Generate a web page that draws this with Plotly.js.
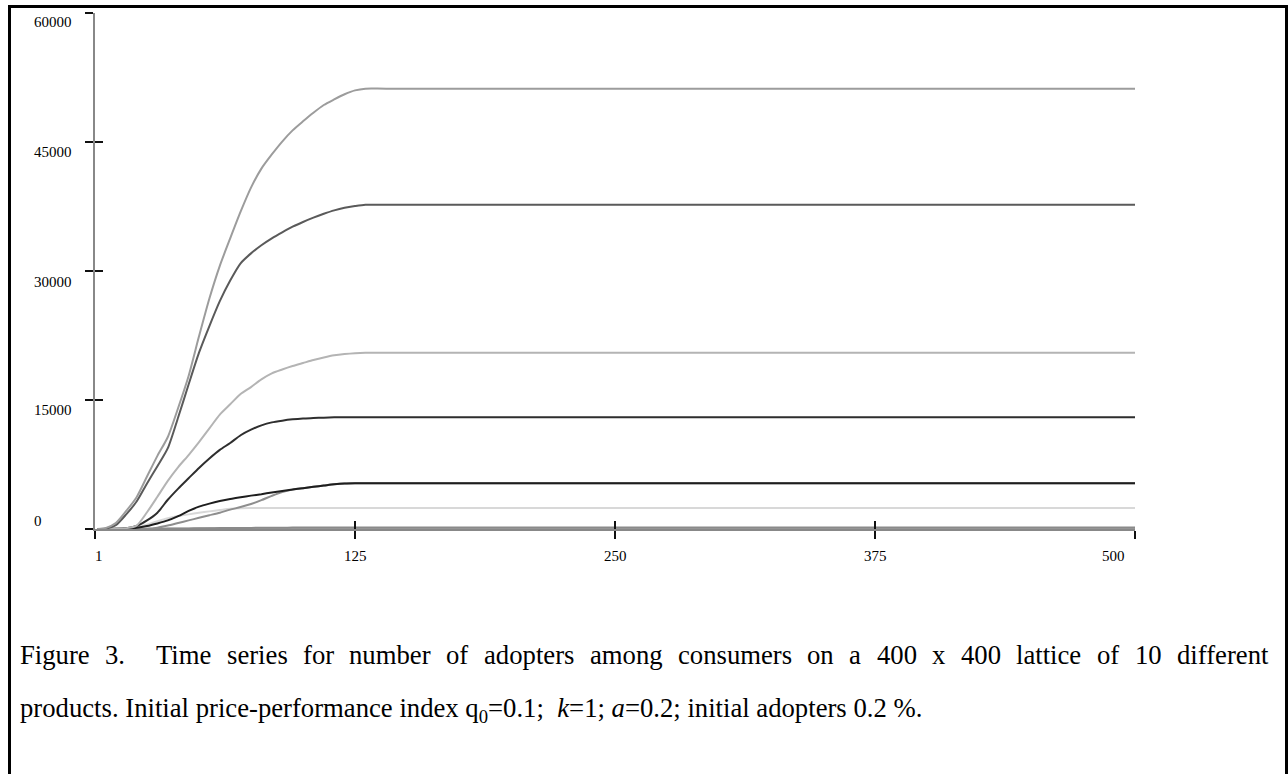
<!DOCTYPE html>
<html>
<head>
<meta charset="utf-8">
<script src="https://cdn.plot.ly/plotly-3.0.1.min.js"></script>
<style>
html,body{margin:0;padding:0;background:#fff;}
#chart{width:1288px;height:774px;}
</style>
</head>
<body>
<div id="chart"></div>
<script>
// ---- data ----
const t = [1,5,10,15,20,25,30,35,40,45,50,55,60,65,70,75,80,85,90,95,100,105,110,115,120,125,130,140,500];
const product1 = [0,100,700,2100,3700,6100,8500,10700,14100,17800,22400,26800,30600,33800,36900,39700,41900,43550,45050,46350,47400,48400,49300,49950,50550,51000,51200,51200,51200];
const product2 = [0,50,450,1700,3200,5300,7300,9400,13000,16800,20500,23600,26500,28900,30900,32050,33000,33800,34500,35150,35700,36200,36650,37050,37350,37550,37700,37700,37700];
const product3 = [0,0,50,100,400,1950,3750,5600,7200,8600,10100,11700,13300,14500,15700,16500,17400,18100,18550,18950,19300,19650,19950,20200,20350,20450,20500,20500,20500];
const product4 = [0,0,20,80,350,1000,1900,3400,4700,5900,7100,8200,9200,10000,10900,11550,12050,12400,12600,12750,12850,12900,12950,12980,13000,13000,13000,13000,13000];
const product5 = [0,0,20,60,150,350,650,1000,1500,2100,2600,2950,3250,3500,3700,3880,4050,4250,4420,4600,4750,4900,5050,5200,5300,5330,5330,5330,5330];
const product6 = [0,0,0,0,0,20,150,400,700,1000,1300,1600,1900,2250,2550,2900,3350,3850,4300,4580,4750,4900,5050,5200,5300,5330,5330,5330,5330];
const product7 = [0,0,0,50,200,500,900,1250,1500,1700,1880,2050,2200,2350,2420,2430,2430,2430,2430,2430,2430,2430,2430,2430,2430,2430,2430,2430,2430];
const product8 = [0,0,0,5,10,20,35,45,60,70,80,95,105,115,120,130,140,145,150,160,165,170,175,178,180,180,180,180,180];
const product9 = [0,0,0,0,5,10,15,20,30,35,40,45,55,60,65,70,75,80,85,88,90,92,95,97,100,100,100,100,100];
const product10 = [0,0,0,0,0,0,5,5,10,10,15,15,20,20,25,25,30,30,30,35,35,35,40,40,40,40,40,40,40];

const xTickVals = [0,125,250,375,500];
const xTickText = ['1','125','250','375','500'];
const yTickVals = [0,15000,30000,45000,60000];
const yTickText = ['0','15000','30000','45000','60000'];

const captionLine1 = 'Figure 3.  Time series for number of adopters among consumers on a 400 x 400 lattice of 10 different';
const captionLine2 = 'products. Initial price-performance index q<sub>0</sub>=0.1;\u00a0 <i>k</i>=1; <i>a</i>=0.2; initial adopters 0.2 %.';

// ---- styles ----
const series = [product10, product9, product8, product7, product6, product5, product4, product3, product2, product1];
const colors = ['#7a7a7a','#a0a0a0','#8a8a8a','#d8d8d8','#8e8e8e','#1e1e1e','#2e2e2e','#b4b4b4','#5a5a5a','#9c9c9c'];
const xLabelShift = [4,0,0,0,-22];
const yLabelShift = [8.5,-10,-11,-10,-9];

const W = 1288, H = 774;
const L = 95, R = 1135, T = 13, B = 529;
const pw = R - L, ph = B - T;
const px = v => (v - L) / pw;
const py = v => (B - v) / ph;
const serif = 'Liberation Serif, Times New Roman, serif';
const capSize = 26.7;
const capLeft = 20, capRight = 1268;

const traces = series.map((s, i) => ({
  type: 'scatter', mode: 'lines', x: t, y: s,
  line: {color: colors[i], width: 2, shape: 'spline', smoothing: 0.7},
  showlegend: false, hoverinfo: 'skip'
}));
traces.push({type:'scatter', mode:'lines', x:[], y:[], xaxis:'x2', yaxis:'y2', showlegend:false});

const annotations = [];
xTickVals.forEach((v, i) => annotations.push({
  xref:'x', yref:'paper', x:v, y:py(556), text:xTickText[i], showarrow:false,
  xanchor:'center', yanchor:'middle', xshift:xLabelShift[i],
  font:{family:serif, size:15, color:'#000'}
}));
yTickVals.forEach((v, i) => annotations.push({
  xref:'paper', yref:'y', x:px(32), y:v, text:yTickText[i], showarrow:false,
  xanchor:'left', yanchor:'middle', yshift:yLabelShift[i],
  font:{family:serif, size:15, color:'#000'}
}));

// caption line 1: justified across the frame, word by word
(function(){
  const c = document.createElement('canvas').getContext('2d');
  c.font = capSize + 'px "Liberation Serif"';
  const parts = captionLine1.split(/( +)/);
  const words = [], gapsAfter = [];
  for (let i = 0; i < parts.length; i += 2) {
    words.push(parts[i]);
    gapsAfter.push(i + 1 < parts.length ? parts[i + 1].length : 0);
  }
  const widths = words.map(w => c.measureText(w).width);
  const totalW = widths.reduce((a, b) => a + b, 0);
  const totalGaps = gapsAfter.reduce((a, b) => a + b, 0);
  const unit = (capRight - capLeft - totalW) / totalGaps;
  let x = capLeft;
  words.forEach((w, i) => {
    annotations.push({xref:'paper', yref:'paper', x:px(x - 1), y:py(655), text:w, showarrow:false,
      xanchor:'left', yanchor:'middle', borderpad:0, font:{family:serif, size:capSize, color:'#000'}});
    x += widths[i] + gapsAfter[i] * unit;
  });
})();
annotations.push({xref:'paper', yref:'paper', x:px(capLeft - 1), y:py(710), text:captionLine2, showarrow:false,
  xanchor:'left', yanchor:'middle', borderpad:0, font:{family:serif, size:capSize, color:'#000'}});

const axisCommon = {showgrid:false, zeroline:false, ticklen:8, tickwidth:2, tickcolor:'#111', fixedrange:true};

const layout = {
  width:W, height:H,
  margin:{l:L, r:W-R, t:T, b:H-B, pad:0},
  paper_bgcolor:'#fff', plot_bgcolor:'#fff',
  xaxis: Object.assign({}, axisCommon, {range:[0,500], tickvals:xTickVals, ticks:'outside', showticklabels:false,
    showline:true, linecolor:'#888', linewidth:2}),
  yaxis: Object.assign({}, axisCommon, {range:[0,60000], tickvals:yTickVals, ticks:'outside', showticklabels:false,
    showline:true, linecolor:'#888', linewidth:2}),
  xaxis2: Object.assign({}, axisCommon, {range:[0,500], tickvals:xTickVals, ticks:'inside', showticklabels:false,
    showline:false, overlaying:'x', anchor:'y2'}),
  yaxis2: Object.assign({}, axisCommon, {range:[0,60000], tickvals:yTickVals, ticks:'inside', showticklabels:false,
    showline:false, overlaying:'y', anchor:'x2'}),
  annotations: annotations,
  shapes: [{type:'rect', xref:'paper', yref:'paper', x0:px(9.5), x1:px(1286.5), y0:py(6.5), y1:py(790),
    line:{color:'#000', width:3}, fillcolor:'rgba(0,0,0,0)', layer:'above'}]
};

Plotly.newPlot('chart', traces, layout, {staticPlot:true, displayModeBar:false});
</script>
</body>
</html>
